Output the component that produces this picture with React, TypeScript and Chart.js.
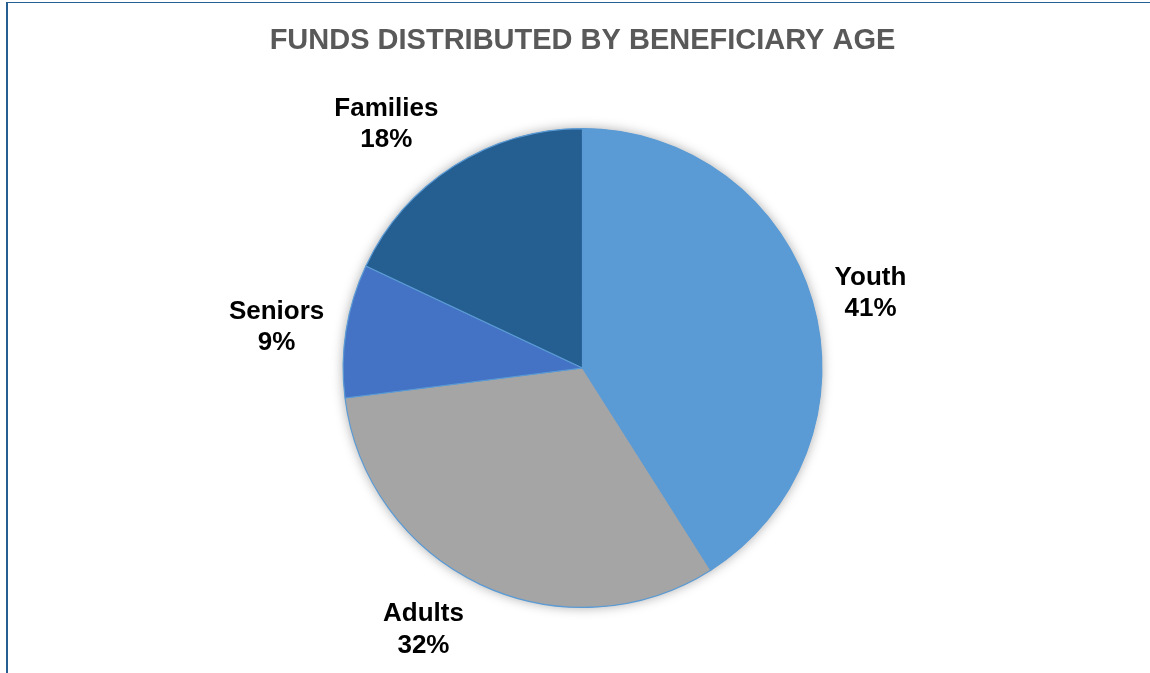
import React, { useEffect, useRef } from "react";
import { Chart, registerables } from "chart.js";

Chart.register(...registerables);

const TITLE = "FUNDS DISTRIBUTED BY BENEFICIARY AGE";
const categories = ["Youth", "Adults", "Seniors", "Families"];
const shares = [41, 32, 9, 18];
const sliceColors = ["#5B9BD5", "#A5A5A5", "#4472C4", "#255E91"];

// label placement relative to each slice's mid-angle (degrees) and outer radius (px)
const labelAngleShift = [1.3, 6.3, -1, -6.2];
const labelRadialGap = [58.6, 65, 69.5, 75];

const FONT = "'Liberation Sans', Arial, Helvetica, sans-serif";

const shadowPlugin = {
  id: "pieShadow",
  beforeDatasetsDraw(chart: any) {
    const meta = chart.getDatasetMeta(0);
    const arc = meta.data[0];
    if (!arc) return;
    const { x, y, outerRadius } = arc;
    const ctx = chart.ctx;
    ctx.save();
    ctx.shadowColor = "rgba(0,0,0,0.35)";
    ctx.shadowBlur = 12;
    ctx.shadowOffsetX = 0;
    ctx.shadowOffsetY = 0;
    ctx.beginPath();
    ctx.arc(x, y, outerRadius, 0, Math.PI * 2);
    ctx.fillStyle = "#5B9BD5";
    ctx.fill();
    ctx.restore();
  },
};

const labelPlugin = {
  id: "outsideLabels",
  afterDatasetsDraw(chart: any) {
    const meta = chart.getDatasetMeta(0);
    const ctx = chart.ctx;
    const total = shares.reduce((a, b) => a + b, 0);
    ctx.save();
    ctx.font = `bold 26px ${FONT}`;
    ctx.fillStyle = "#000000";
    ctx.textAlign = "center";
    ctx.textBaseline = "alphabetic";
    const capH = 26 * 0.716;
    const lineGap = 31.5;
    meta.data.forEach((arc: any, i: number) => {
      const mid = (arc.startAngle + arc.endAngle) / 2 + (labelAngleShift[i] * Math.PI) / 180;
      const d = arc.outerRadius + labelRadialGap[i];
      const cx = arc.x + Math.cos(mid) * d;
      const cy = arc.y + Math.sin(mid) * d;
      const blockH = capH + lineGap;
      const b1 = cy - blockH / 2 + capH;
      const pct = Math.round((shares[i] / total) * 100) + "%";
      ctx.fillText(categories[i], cx, b1);
      ctx.fillText(pct, cx, b1 + lineGap);
    });
    ctx.restore();
  },
};

export default function App() {
  const canvasRef = useRef<HTMLCanvasElement | null>(null);

  useEffect(() => {
    if (!canvasRef.current) return;
    const chart = new Chart(canvasRef.current, {
      type: "pie",
      data: {
        labels: categories,
        datasets: [
          {
            data: shares,
            backgroundColor: sliceColors,
            borderColor: "#5B9BD5",
            borderWidth: 1.2,
            hoverOffset: 0,
          },
        ],
      },
      options: {
        responsive: false,
        animation: false,
        events: [],
        layout: { padding: { left: 200, right: 185, top: 0, bottom: 65 } },
        plugins: {
          legend: { display: false },
          tooltip: { enabled: false },
          title: {
            display: true,
            text: TITLE,
            color: "#595959",
            font: { family: FONT, size: 29, weight: "bold", lineHeight: 1.2 },
            padding: { top: 23.6, bottom: 69.6 },
          },
        },
      },
      plugins: [shadowPlugin, labelPlugin],
    });
    return () => chart.destroy();
  }, []);

  return (
    <div
      style={{
        position: "fixed",
        left: 0,
        top: 0,
        width: 1150,
        height: 673,
        overflow: "hidden",
        background: "#ffffff",
      }}
    >
      <canvas
        ref={canvasRef}
        width={1150}
        height={673}
        style={{ position: "absolute", left: 0, top: 0, width: 1150, height: 673 }}
      />
      <div
        style={{
          position: "absolute",
          left: 6,
          top: 2,
          width: 2000,
          height: 2000,
          borderLeft: "2px solid #255E91",
          borderTop: "1.5px solid #255E91",
          pointerEvents: "none",
        }}
      />
    </div>
  );
}
